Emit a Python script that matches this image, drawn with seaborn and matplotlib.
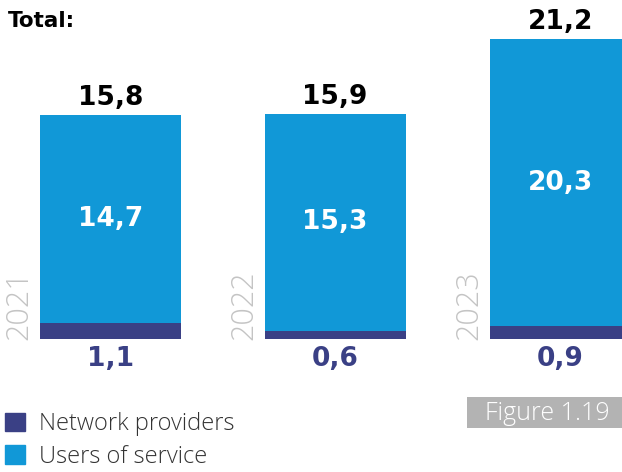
import pandas as pd
import seaborn as sns
import matplotlib.pyplot as plt
from matplotlib.patches import Patch, Rectangle

years = ['2021', '2022', '2023']
network_providers = [1.1, 0.6, 0.9]
users_of_service = [14.7, 15.3, 20.3]
totals = [15.8, 15.9, 21.2]

NAVY = '#3a4085'
BLUE = '#1198d7'
LIGHT = ['Open Sans', 'DejaVu Sans']
BOLD = ['DejaVu Sans']

df = pd.DataFrame({'year': years, 'network': network_providers,
                   'users': users_of_service, 'total': totals})


def fmt(v):
    return f'{v:.1f}'.replace('.', ',')


sns.set_style('white')
plt.rcParams['font.family'] = LIGHT

fig = plt.figure(figsize=(6.22, 4.72), dpi=100)
ax = fig.add_axes([0, 0, 1, 1])

width = 0.627
sns.barplot(data=df, x='year', y='total', color=BLUE, width=width,
            saturation=1, linewidth=0, ax=ax)
sns.barplot(data=df, x='year', y='network', color=NAVY, width=width,
            saturation=1, linewidth=0, ax=ax)

ax.set_xlim(-0.49, 2.275)
ax.set_ylim(-9.40, 23.96)
ax.axis('off')

for i, row in df.iterrows():
    # total on top
    ax.annotate(fmt(row['total']), (i, row['total']), xytext=(0, 3),
                textcoords='offset points', ha='center', va='bottom',
                fontsize=19, fontweight='bold', color='black', family=BOLD)
    # users of service inside
    ax.text(i, row['network'] + row['users'] / 2, fmt(row['users']),
            ha='center', va='center', fontsize=19, fontweight='bold',
            color='white', family=BOLD)
    # network providers below
    ax.annotate(fmt(row['network']), (i, 0), xytext=(0, -5),
                textcoords='offset points', ha='center', va='top',
                fontsize=19, fontweight='bold', color=NAVY, family=BOLD)
    # year label
    ax.annotate(row['year'], (i - width / 2, 0), xytext=(-3, -1),
                textcoords='offset points', ha='right', va='bottom',
                rotation=90, fontsize=22, fontweight='light', color='#c4c4c4')

fig.text(8 / 622, 1 - 21 / 472, 'Total:', ha='left', va='center',
         fontsize=15.5, fontweight='bold', color='black', family=BOLD)

handles = [Patch(color=NAVY, label='Network providers'),
           Patch(color=BLUE, label='Users of service')]
fig.legend(handles=handles, loc='lower left', bbox_to_anchor=(-0.003, -0.008),
           frameon=False, handlelength=0.82, handleheight=0.82,
           handletextpad=0.6, labelspacing=0.35, borderaxespad=0.1,
           borderpad=0.2, labelcolor='#333333',
           prop={'family': LIGHT, 'size': 17, 'weight': 'light'})

fig.add_artist(Rectangle((467 / 622, 1 - 428 / 472), 155 / 622, 31 / 472,
                         transform=fig.transFigure, fc='#b3b3b3', ec='none'))
fig.text(1 - 12 / 622, 1 - 413 / 472, 'Figure 1.19', ha='right', va='center',
         fontsize=18, fontweight='light', color='white')

fig.savefig('out.png', dpi=100)
